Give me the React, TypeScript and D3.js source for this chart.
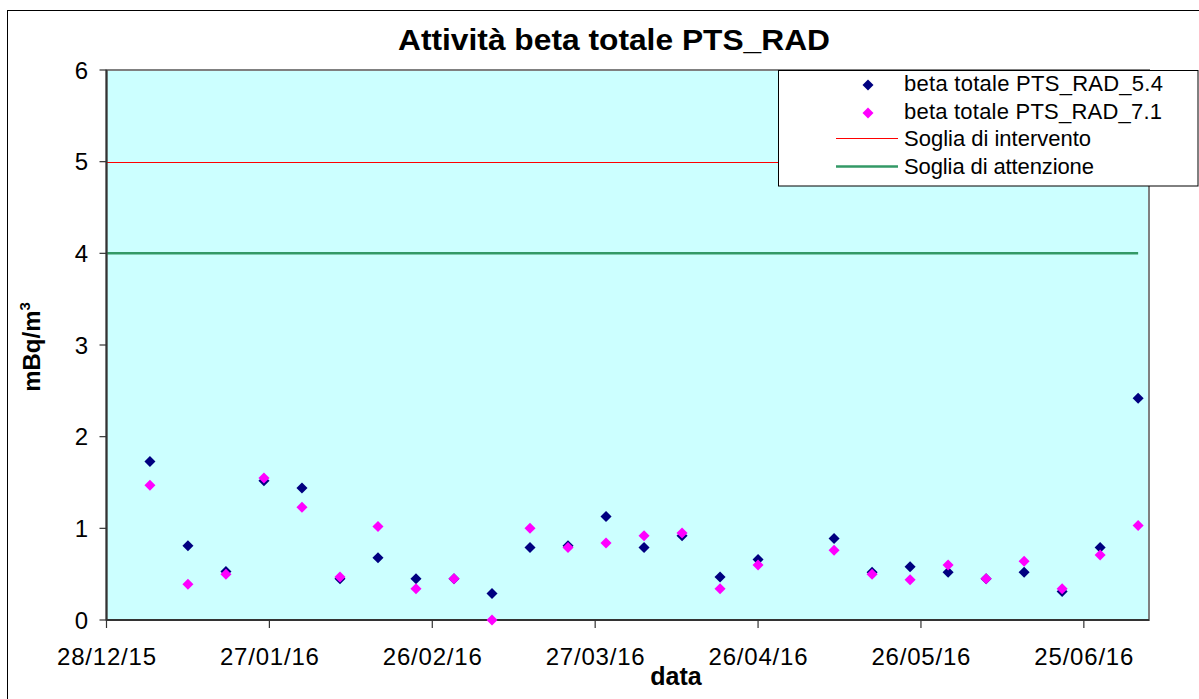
import * as d3 from 'd3'

// sampling dates (weekly) and the two series
const dates = [
  '05/01/16', '12/01/16', '19/01/16', '26/01/16', '02/02/16', '09/02/16', '16/02/16',
  '23/02/16', '01/03/16', '08/03/16', '15/03/16', '22/03/16', '29/03/16', '05/04/16',
  '12/04/16', '19/04/16', '26/04/16', '10/05/16', '17/05/16', '24/05/16', '31/05/16',
  '07/06/16', '14/06/16', '21/06/16', '28/06/16', '05/07/16',
]
const beta54 = [
  1.73, 0.81, 0.53, 1.52, 1.44, 0.45, 0.68, 0.45, 0.45, 0.29, 0.79, 0.81, 1.13,
  0.79, 0.92, 0.47, 0.66, 0.89, 0.52, 0.58, 0.52, 0.45, 0.52, 0.31, 0.79, 2.42,
]
const beta71 = [
  1.47, 0.39, 0.5, 1.55, 1.23, 0.47, 1.02, 0.34, 0.45, 0.0, 1.0, 0.79, 0.84,
  0.92, 0.95, 0.34, 0.6, 0.76, 0.5, 0.44, 0.6, 0.45, 0.64, 0.34, 0.71, 1.03,
]
const xTickLabels = ['28/12/15', '27/01/16', '26/02/16', '27/03/16', '26/04/16', '26/05/16', '25/06/16']
const yTicks = [0, 1, 2, 3, 4, 5, 6]
const xDomain = ['28/12/15', '07/07/16']
const sogliaIntervento = 5
const sogliaAttenzione = 4

const parse = d3.utcParse('%d/%m/%y')
const font = '"Liberation Sans", Arial, sans-serif'

const W = 1199
const H = 699
const plot = { left: 106.5, right: 1149, top: 70, bottom: 620 }

const x = d3.scaleUtc()
  .domain(xDomain.map(s => parse(s) as Date))
  .range([plot.left, plot.right])
const y = d3.scaleLinear().domain([0, 6]).range([plot.bottom, plot.top])

// snap a horizontal 1px line onto a pixel row
const crisp = (v: number) => Math.round(v) + 0.5

const diamond = d3.symbol().type(d3.symbolDiamond2).size(78)()

const legendItems = [
  { label: 'beta totale PTS_RAD_5.4', kind: 'dot', color: '#000080', len: 259 },
  { label: 'beta totale PTS_RAD_7.1', kind: 'dot', color: '#FF00FF', len: 258 },
  { label: 'Soglia di intervento', kind: 'line', color: '#FF0000', len: 187 },
  { label: 'Soglia di attenzione', kind: 'line', color: '#339966', len: 190 },
]

export default function App() {
  const pts = dates.map((d, i) => ({ date: parse(d) as Date, a: beta54[i], b: beta71[i] }))
  const first = x.domain()[0]
  const last = pts[pts.length - 1].date

  return (
    <svg width={W} height={H} style={{ position: 'absolute', left: 0, top: 0, fontFamily: font }}>
      <rect x={0} y={0} width={W} height={H} fill='#fff' />
      {/* chart frame */}
      <rect x={7.5} y={10.5} width={1200} height={700} fill='none' stroke='#000' />

      <text x={614} y={50} textAnchor='middle' fontSize={30} fontWeight='bold' textLength={432} lengthAdjust='spacingAndGlyphs'>
        Attività beta totale PTS_RAD
      </text>

      {/* plot area */}
      <rect x={plot.left} y={plot.top} width={plot.right - plot.left} height={plot.bottom - plot.top}
        fill='#CCFFFF' stroke='#808080' strokeWidth={2} />

      {/* thresholds */}
      <line x1={x(first)} x2={x(last)} y1={crisp(y(sogliaIntervento))} y2={crisp(y(sogliaIntervento))}
        stroke='#FF0000' strokeWidth={1} />
      <line x1={x(first)} x2={x(last)} y1={y(sogliaAttenzione)} y2={y(sogliaAttenzione)} stroke='#339966' strokeWidth={2.5} />

      {/* axes */}
      <line x1={plot.left} x2={plot.left} y1={plot.top} y2={plot.bottom} stroke='#333' strokeWidth={2} />
      <line x1={plot.left} x2={plot.right} y1={plot.bottom} y2={plot.bottom} stroke='#333' strokeWidth={2} />
      {yTicks.map(t => (
        <g key={t}>
          <line x1={plot.left - 7} x2={plot.left} y1={y(t)} y2={y(t)} stroke='#333' strokeWidth={1.2} />
          <text x={88} y={y(t) + 8.5} textAnchor='end' fontSize={24}>{t}</text>
        </g>
      ))}
      {xTickLabels.map(s => {
        const px = x(parse(s) as Date)
        return (
          <g key={s}>
            <line x1={px} x2={px} y1={plot.bottom} y2={plot.bottom + 8} stroke='#333' strokeWidth={1.2} />
            <text x={px} y={665} textAnchor='middle' fontSize={24} textLength={99} lengthAdjust='spacing'>{s}</text>
          </g>
        )
      })}

      <text x={676} y={685} textAnchor='middle' fontSize={25} fontWeight='bold'>data</text>
      <text transform='translate(40,347) rotate(-90)' textAnchor='middle' fontSize={24} fontWeight='bold'>
        mBq/m<tspan fontSize={15} dy={-10}>3</tspan>
      </text>

      {/* series */}
      {pts.map((p, i) => (
        <path key={'a' + i} d={diamond} transform={`translate(${x(p.date)},${y(p.a)})`} fill='#000080' />
      ))}
      {pts.map((p, i) => (
        <path key={'b' + i} d={diamond} transform={`translate(${x(p.date)},${y(p.b)})`} fill='#FF00FF' />
      ))}

      {/* legend */}
      <rect x={778.5} y={70.5} width={419.5} height={115.5} fill='#fff' stroke='#000' />
      {legendItems.map((it, i) => {
        const base = [91, 119, 146, 174.3][i]
        const cy = base - 6
        return (
          <g key={it.label}>
            {it.kind === 'dot'
              ? <path d={diamond} transform={`translate(868,${cy})`} fill={it.color} />
              : <line x1={836} x2={898} y1={crisp(cy - 2)} y2={crisp(cy - 2)} stroke={it.color}
                  strokeWidth={i === 3 ? 2.5 : 1} />}
            <text x={904} y={base} fontSize={22} textLength={it.len} lengthAdjust='spacing'>{it.label}</text>
          </g>
        )
      })}
    </svg>
  )
}
